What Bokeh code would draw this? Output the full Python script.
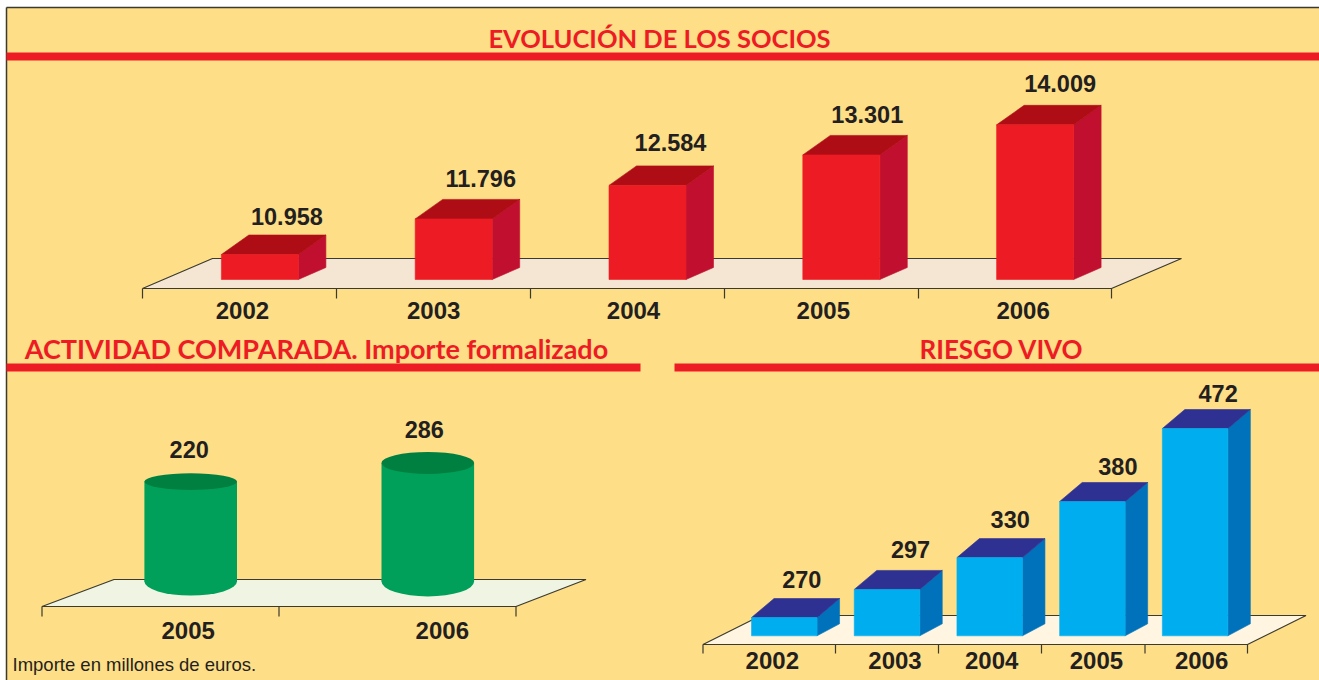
from bokeh.plotting import figure
from bokeh.models import Range1d, ColumnDataSource
from bokeh.core.properties import value
from bokeh.embed import file_html
from bokeh.resources import INLINE

# ---- data ----
years_socios = ["2002", "2003", "2004", "2005", "2006"]
socios_values = [10958, 11796, 12584, 13301, 14009]
socios_labels = ["10.958", "11.796", "12.584", "13.301", "14.009"]

years_actividad = ["2005", "2006"]
actividad_values = [220, 286]
actividad_labels = ["220", "286"]

years_riesgo = ["2002", "2003", "2004", "2005", "2006"]
riesgo_values = [270, 297, 330, 380, 472]
# the original's bars are not quite proportional: bar tops as read off its own scale
riesgo_drawn = [270, 300, 334, 394, 472]
riesgo_labels = ["270", "297", "330", "380", "472"]

titles = ["EVOLUCIÓN DE LOS SOCIOS", "ACTIVIDAD COMPARADA. Importe formalizado", "RIESGO VIVO"]
note = "Importe en millones de euros."

# ---- style ----
W, H = 1319, 680
BG = "#fede86"; RED = "#ed1c24"; INK = "#231f20"; EDGE = "#3a3a30"
SANS = value("Liberation Sans"); TITLE_FONT = value("Lato")

p = figure(width=W, height=H, output_backend="svg", toolbar_location=None,
           x_range=Range1d(0, W), y_range=Range1d(H, 0), min_border=0,
           background_fill_color="white", border_fill_color="white")
p.axis.visible = False
p.grid.visible = False
p.outline_line_color = None


def add_scale(name, x0, step, base_px, base_value, ppu):
    """One pair of ranges per chart: category index -> x, value -> y."""
    p.extra_x_ranges[name] = Range1d(-x0 / step, (W - x0) / step)
    p.extra_y_ranges[name] = Range1d(base_value - (H - base_px) / ppu, base_value + base_px / ppu)


# panel, frame and rules
p.quad(left=[6], right=[W], top=[7], bottom=[H], fill_color=BG, line_color=None)
p.segment(x0=[6, 6], y0=[7, 7], x1=[W, 6], y1=[7, H], line_color=EDGE, line_width=1.5)
p.quad(left=[6, 6, 674], right=[W, 640, W], top=[52, 363, 363], bottom=[60, 371, 371],
       fill_color=RED, line_color=None)

# section titles
for title, tx, ty, size in zip(titles, [659, 316, 1001], [37, 348, 348], ["25.5px", "27px", "26px"]):
    p.text(x=[tx], y=[ty], text=[title], text_color=RED, text_font=TITLE_FONT,
           text_font_style="bold", text_font_size=size, text_align="center", text_baseline="middle")
p.text(x=[12], y=[664], text=[note], text_color=INK, text_font=SANS, text_font_size="18.5px",
       text_align="left", text_baseline="middle")


def floor(outline, fill, tick_xs, tick_bottom):
    xs = [q[0] for q in outline]
    ys = [q[1] for q in outline]
    p.patch(xs, ys, fill_color=fill, line_color=EDGE, line_width=1.2)
    fy = max(ys)
    p.segment(x0=tick_xs, y0=[fy] * len(tick_xs), x1=tick_xs, y1=[tick_bottom] * len(tick_xs),
              line_color=EDGE, line_width=1.2)


def year_labels(name, years, base_value, dx, dy):
    src = ColumnDataSource(dict(x=list(range(len(years))), y=[base_value] * len(years), t=years,
                                dx=dx, dy=dy))
    p.text(x="x", y="y", text="t", x_offset="dx", y_offset="dy", source=src, x_range_name=name,
           y_range_name=name, text_color=INK, text_font=SANS, text_font_style="bold",
           text_font_size="24px", text_align="center", text_baseline="middle")


def value_labels(name, tops, labels, dx, dy):
    src = ColumnDataSource(dict(x=list(range(len(tops))), y=tops, t=labels, dx=dx, dy=dy))
    p.text(x="x", y="y", text="t", x_offset="dx", y_offset="dy", source=src, x_range_name=name,
           y_range_name=name, text_color=INK, text_font=SANS, text_font_style="bold",
           text_font_size="23.5px", text_align="center", text_baseline="middle")


def bars3d(name, vals, base_value, ppu, step, width_px, depth_px, top_rise, side_rise, front, top, side):
    w = width_px / step / 2
    d = depth_px / step
    rise_t = top_rise / ppu
    rise_s = side_rise / ppu
    idx = list(range(len(vals)))
    p.patches([[i + w, i + w + d, i + w + d, i + w] for i in idx],
              [[base_value, base_value + rise_s, v + rise_t, v] for v in vals],
              fill_color=side, line_color=side, line_width=0.6, x_range_name=name, y_range_name=name)
    p.patches([[i - w, i + w, i + w + d, i - w + d] for i in idx],
              [[v, v, v + rise_t, v + rise_t] for v in vals],
              fill_color=top, line_color=top, line_width=0.6, x_range_name=name, y_range_name=name)
    p.vbar(x=idx, width=2 * w, bottom=base_value, top=vals, fill_color=front, line_color=front,
           line_width=0.6, x_range_name=name, y_range_name=name)


# ---- EVOLUCIÓN DE LOS SOCIOS ----
S_BASE = 10370; S_PPU = 0.0425; S_STEP = 193.8
add_scale("socios", 259.4, S_STEP, 279, S_BASE, S_PPU)
floor([(142, 288), (1111, 288), (1181, 258), (212, 258)], "#f4e6d2",
      [142, 336, 530, 724, 918, 1111], 298)
bars3d("socios", socios_values, S_BASE, S_PPU, S_STEP, 77, 27.5, 19.5, 12, RED, "#ae0d15", "#c1102f")
year_labels("socios", years_socios, S_BASE, [-17.5, -20, -14, -18, -12], [31] * 5)
value_labels("socios", socios_values, socios_labels, [27, 27, 23, 26, 25], [-38, -40, -43, -40, -41])

# ---- ACTIVIDAD COMPARADA ----
A_BASE = -133; A_PPU = 0.283; A_STEP = 237.1
add_scale("actividad", 190.2, A_STEP, 581, A_BASE, A_PPU)
floor([(41.5, 606), (515.5, 606), (585.5, 579), (113.5, 579)], "#f0f5e3", [41.5, 278.5, 515.5], 616)
cyl_w = 92.6 / A_STEP
idx_a = list(range(len(actividad_values)))
p.ellipse(x=idx_a, y=[A_BASE] * 2, width=[cyl_w] * 2, height=[28 / A_PPU, 30 / A_PPU],
          fill_color="#00a05a", line_color=None, x_range_name="actividad", y_range_name="actividad")
p.vbar(x=idx_a, width=cyl_w, bottom=A_BASE, top=actividad_values, fill_color="#00a05a", line_color=None,
       x_range_name="actividad", y_range_name="actividad")
p.ellipse(x=idx_a, y=actividad_values, width=[cyl_w] * 2, height=[16.7 / A_PPU, 22 / A_PPU],
          fill_color="#008040", line_color=None, x_range_name="actividad", y_range_name="actividad")
year_labels("actividad", years_actividad, A_BASE, [-2.5, 14.5], [49, 49])
value_labels("actividad", actividad_values, actividad_labels, [-1.5, -3.5], [-32, -33])

# ---- RIESGO VIVO ----
R_BASE = 270 - 18.3 / 0.9356; R_PPU = 0.9356; R_STEP = 102.7
add_scale("riesgo", 783.8, R_STEP, 635.3, R_BASE, R_PPU)
floor([(702.5, 644), (1247, 644), (1305.5, 615), (760.5, 615)], "#fff5e0",
      [702.5, 835, 938, 1041, 1144.5, 1247], 653)
bars3d("riesgo", riesgo_drawn, R_BASE, R_PPU, R_STEP, 65.5, 22.5, 19, 12, "#00aeef", "#2e3192", "#0072bc")
year_labels("riesgo", years_riesgo, R_BASE, [-12, 8, 2, 4, 6.5], [25] * 5)
value_labels("riesgo", riesgo_drawn, riesgo_labels, [17.5, 23.5, 20.5, 25.5, 23], [-38, -40, -38, -35, -35])

html = file_html(p, INLINE)
html = html.replace("</head>", "<style>html,body{margin:0;padding:0;overflow:hidden}</style></head>", 1)
open("out.html", "w").write(html)
